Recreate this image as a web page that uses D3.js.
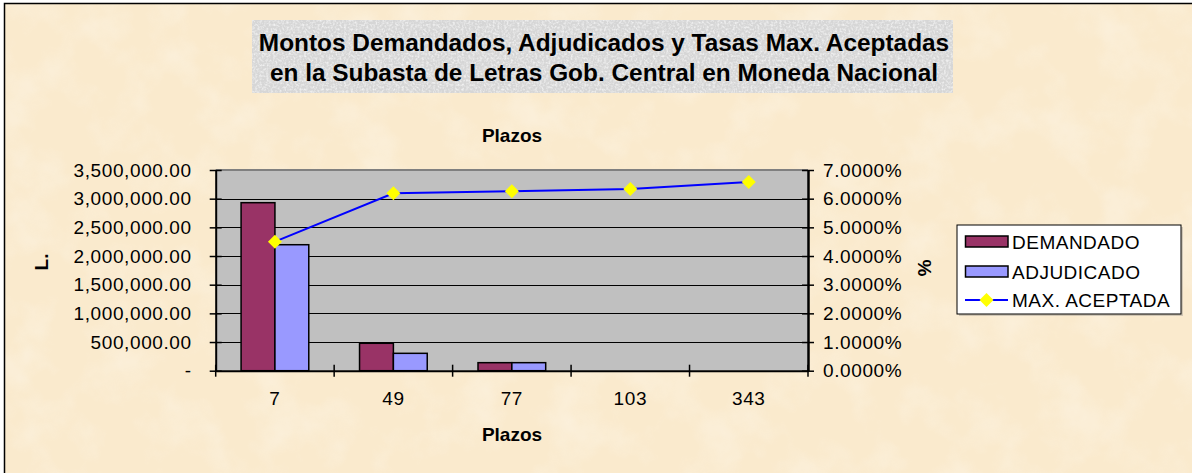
<!DOCTYPE html>
<html><head><meta charset="utf-8">
<script src="https://cdn.jsdelivr.net/npm/d3@7"></script>
<style>body{margin:0;background:#fff;}svg{display:block;font-family:"Liberation Sans",Arial,sans-serif;}</style>
</head><body>
<svg id="c" width="1192" height="473"></svg>
<script>
const categories = ["7","49","77","103","343"];
const demandado = [2930000, 478000, 140000, 0, 0];
const adjudicado = [2197000, 303000, 140000, 0, 0];
const maxAceptada = [0.0450, 0.0619, 0.0626, 0.0634, 0.0658];
const leftTicks = [0,500000,1000000,1500000,2000000,2500000,3000000,3500000];
const rightTicks = [0,0.01,0.02,0.03,0.04,0.05,0.06,0.07];
const seriesNames = ["DEMANDADO","ADJUDICADO","MAX. ACEPTADA"];
const titleLines = ["Montos Demandados, Adjudicados y Tasas Max. Aceptadas","en la Subasta de Letras Gob. Central en Moneda Nacional"];

const svg = d3.select("#c");
const defs = svg.append("defs");
const f1 = defs.append("filter").attr("id","parch").attr("x",0).attr("y",0).attr("width","100%").attr("height","100%");
f1.append("feTurbulence").attr("type","fractalNoise").attr("baseFrequency","0.02").attr("numOctaves",4).attr("seed",7);
f1.append("feColorMatrix").attr("type","matrix").attr("values","0 0 0 0 1  0 0 0 0 1  0 0 0 0 1  1.2 0 0 0 -0.55");
const f2 = defs.append("filter").attr("id","speck").attr("x",0).attr("y",0).attr("width","100%").attr("height","100%");
f2.append("feTurbulence").attr("type","fractalNoise").attr("baseFrequency","0.45").attr("numOctaves",2).attr("seed",3);
f2.append("feColorMatrix").attr("type","matrix").attr("values","0 0 0 0 1  0 0 0 0 1  0 0 0 0 1  2.2 0 0 0 -0.9");

// background
svg.append("rect").attr("x",4).attr("y",3).attr("width",1200).attr("height",500).attr("fill","#FAEACD");
svg.append("rect").attr("x",4).attr("y",3).attr("width",1200).attr("height",500).attr("fill","#fff").attr("filter","url(#parch)").attr("opacity",0.55);
svg.append("rect").attr("x",4.5).attr("y",3.5).attr("width",1200).attr("height",500).attr("fill","none").attr("stroke","#000").attr("stroke-width",1.5);

// title box
svg.append("rect").attr("x",252).attr("y",20).attr("width",701).attr("height",73).attr("fill","#D6D6D6");
svg.append("rect").attr("x",252).attr("y",20).attr("width",701).attr("height",73).attr("fill","#fff").attr("filter","url(#speck)").attr("opacity",0.7);
svg.append("g").selectAll("text").data(titleLines).join("text")
  .attr("x",604).attr("y",(d,i)=>51+i*30).attr("text-anchor","middle")
  .attr("font-weight","bold").attr("font-size",24.4).attr("fill","#000").text(d=>d);

const X0=215.7, X1=808, Y0=170, Y1=370.7;
const x = d3.scaleBand().domain(categories).range([X0,X1]).padding(0);
const yL = d3.scaleLinear().domain([0,3500000]).range([Y1,Y0]);
const yR = d3.scaleLinear().domain([0,0.07]).range([Y1,Y0]);
const bw = x.bandwidth()/3.5;

svg.append("rect").attr("x",X0).attr("y",Y0).attr("width",X1-X0).attr("height",Y1-Y0).attr("fill","#C0C0C0");
// gridlines
svg.append("g").selectAll("line").data(leftTicks.slice(1,-1)).join("line")
  .attr("x1",X0).attr("x2",X1).attr("y1",d=>Math.round(yL(d))+0.5).attr("y2",d=>Math.round(yL(d))+0.5)
  .attr("stroke","#000").attr("stroke-width",1);
svg.append("line").attr("x1",X0).attr("x2",X1).attr("y1",Y0).attr("y2",Y0).attr("stroke","#808080").attr("stroke-width",2);

// bars
const g = svg.append("g");
g.selectAll("rect.dem").data(categories).join("rect").attr("class","dem")
  .attr("x",d=>x(d)+x.bandwidth()/2-bw).attr("width",bw)
  .attr("y",(d,i)=>yL(demandado[i])).attr("height",(d,i)=>Y1-yL(demandado[i]))
  .attr("fill","#993366").attr("stroke","#000").attr("stroke-width",1.5)
  .style("display",(d,i)=>demandado[i]>0?null:"none");
g.selectAll("rect.adj").data(categories).join("rect").attr("class","adj")
  .attr("x",d=>x(d)+x.bandwidth()/2).attr("width",bw)
  .attr("y",(d,i)=>yL(adjudicado[i])).attr("height",(d,i)=>Y1-yL(adjudicado[i]))
  .attr("fill","#9999FF").attr("stroke","#000").attr("stroke-width",1.5)
  .style("display",(d,i)=>adjudicado[i]>0?null:"none");

const tickFont = sel => sel.attr("font-size",19).attr("letter-spacing",0.6).attr("font-family","Liberation Sans, Arial").attr("fill","#000");

// axes
const axL = d3.axisLeft(yL).tickValues(leftTicks).tickSize(0).tickPadding(24)
  .tickFormat(d=>d===0?"-":d3.format(",.2f")(d));
const gl = svg.append("g").attr("transform",`translate(${X0},0)`).call(axL);
gl.select(".domain").attr("stroke","#000").attr("stroke-width",2);
gl.selectAll("text").call(tickFont);
gl.selectAll(".tick").append("line").attr("x1",-6).attr("x2",6).attr("stroke","#000").attr("stroke-width",1.5);

const axR = d3.axisRight(yR).tickValues(rightTicks).tickSize(0).tickPadding(15)
  .tickFormat(d3.format(".4%"));
const gr = svg.append("g").attr("transform",`translate(${X1},0)`).call(axR);
gr.select(".domain").attr("stroke","#000").attr("stroke-width",2.5);
gr.selectAll("text").call(tickFont);
gr.selectAll(".tick").append("line").attr("x1",-6).attr("x2",6).attr("stroke","#000").attr("stroke-width",1.5);

const axB = d3.axisBottom(x).tickSize(0).tickPadding(21);
const gb = svg.append("g").attr("transform",`translate(0,${Y1})`).call(axB);
gb.select(".domain").attr("stroke","#000").attr("stroke-width",2);
gb.selectAll("text").call(tickFont);
svg.append("g").selectAll("line").data(d3.range(categories.length+1)).join("line")
  .attr("x1",i=>X0+i*x.bandwidth()).attr("x2",i=>X0+i*x.bandwidth())
  .attr("y1",Y1-6).attr("y2",Y1+6).attr("stroke","#000").attr("stroke-width",1.5);

// line
const line = d3.line().x((d,i)=>x(categories[i])+x.bandwidth()/2).y(d=>yR(d));
svg.append("path").datum(maxAceptada).attr("d",line).attr("fill","none").attr("stroke","#0000FF").attr("stroke-width",2);
const diamond = s=>`M0,${-s}L${s},0L0,${s}L${-s},0Z`;
svg.append("g").selectAll("path").data(maxAceptada).join("path")
  .attr("transform",(d,i)=>`translate(${x(categories[i])+x.bandwidth()/2},${yR(d)})`)
  .attr("d",diamond(7)).attr("fill","#FFFF00");

// axis titles
svg.append("text").attr("x",512).attr("y",142).attr("text-anchor","middle").attr("font-weight","bold").attr("font-size",19).text("Plazos");
svg.append("text").attr("x",512).attr("y",441).attr("text-anchor","middle").attr("font-weight","bold").attr("font-size",19).text("Plazos");
svg.append("text").attr("transform","translate(48,262) rotate(-90)").attr("text-anchor","middle").attr("font-weight","bold").attr("font-size",19).text("L.");
svg.append("text").attr("transform","translate(918,268) rotate(90)").attr("text-anchor","middle").attr("font-weight","bold").attr("font-size",19).text("%");

// legend
const lg = svg.append("g");
lg.append("rect").attr("x",959).attr("y",227).attr("width",224).attr("height",89).attr("fill","#808080").attr("opacity",0.35);
lg.append("rect").attr("x",957).attr("y",225).attr("width",224).attr("height",89).attr("fill","#fff").attr("stroke","#000").attr("stroke-width",1);
const ly = [241.5, 271.5, 300];
const colors = ["#993366","#9999FF"];
[0,1].forEach(i=>{
  lg.append("rect").attr("x",965.5).attr("y",ly[i]-5.5).attr("width",42.5).attr("height",11).attr("fill",colors[i]).attr("stroke","#000").attr("stroke-width",1.5);
});
lg.append("line").attr("x1",965).attr("x2",1008).attr("y1",ly[2]).attr("y2",ly[2]).attr("stroke","#0000FF").attr("stroke-width",2);
lg.append("path").attr("transform",`translate(986.5,${ly[2]})`).attr("d",diamond(7)).attr("fill","#FFFF00");
lg.selectAll("text").data(seriesNames).join("text").attr("x",1012).attr("y",(d,i)=>ly[i]+7)
  .attr("font-size",19).attr("letter-spacing",0.5).attr("fill","#000").text(d=>d);
</script>
</body></html>
